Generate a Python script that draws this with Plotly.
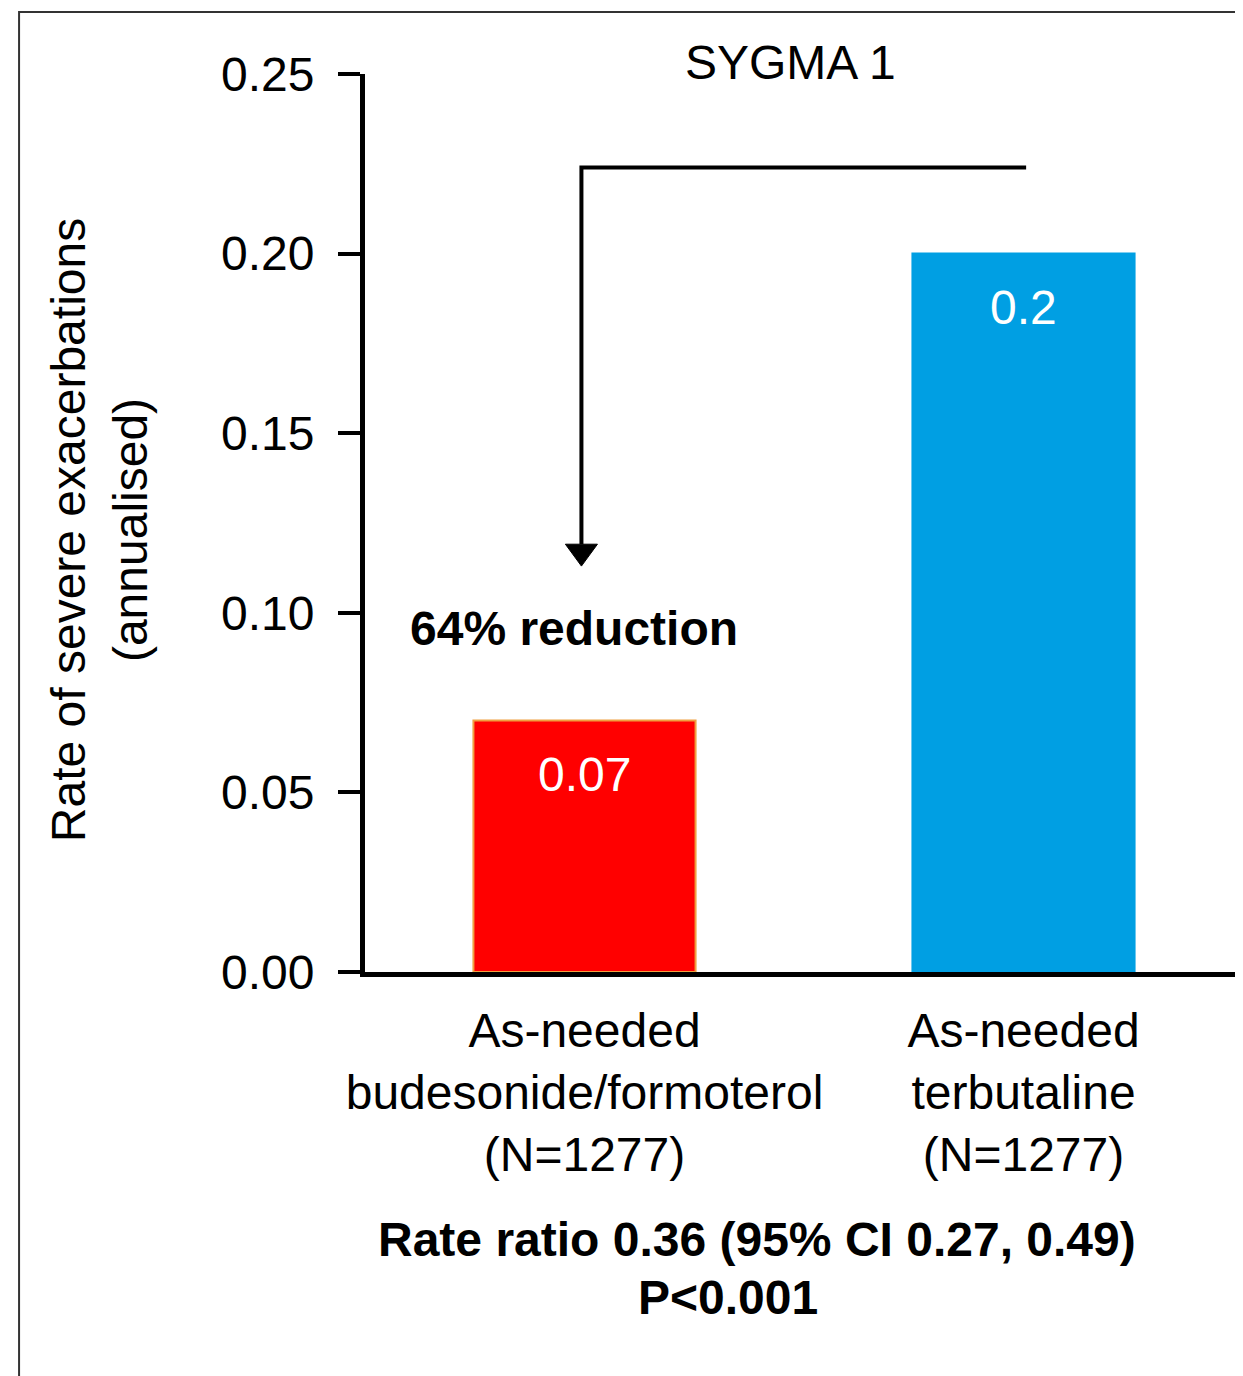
import plotly.graph_objects as go

# ---- data ----
categories = ["As-needed<br>budesonide/formoterol<br>(N=1277)",
              "As-needed<br>terbutaline<br>(N=1277)"]
rates = [0.07, 0.20]
rate_labels = ["0.07", "0.2"]
bar_colors = ["#FF0000", "#009FE3"]
bar_edges = ["#F0A040", "#009FE3"]
y_ticks = [0.00, 0.05, 0.10, 0.15, 0.20, 0.25]
y_tick_labels = ["0.00", "0.05", "0.10", "0.15", "0.20", "0.25"]
title_text = "SYGMA 1"
y_title = "Rate of severe exacerbations<br>(annualised)"
reduction_text = "64% reduction"
stats_line1 = "Rate ratio 0.36 (95% CI 0.27, 0.49)"
stats_line2 = "P<0.001"
bracket_y = 0.224
arrow_tip_y = 0.113

FONT = "Liberation Sans, Arial, sans-serif"
FS = 48
x_pos = list(range(len(categories)))

fig = go.Figure()
fig.add_trace(go.Bar(
    x=x_pos, y=rates, width=0.506,
    marker=dict(color=bar_colors, line=dict(color=bar_edges, width=2)),
    hoverinfo="skip", showlegend=False,
))

# bar value labels
for xi, v, lab in zip(x_pos, rates, rate_labels):
    fig.add_annotation(x=xi, y=v, xref="x", yref="y", text=lab, showarrow=False,
                       yanchor="middle", yshift=-54,
                       font=dict(family=FONT, size=FS, color="white"))

# bracket and arrow
xa, xb = x_pos[0] - 0.007, x_pos[1] + 0.006
hw, hh = 0.0365, 0.0061
fig.add_shape(type="path",
              path=f"M {xa},{arrow_tip_y + hh} L {xa},{bracket_y} L {xb},{bracket_y}",
              xref="x", yref="y", line=dict(color="black", width=4))
fig.add_shape(type="path",
              path=f"M {xa - hw},{arrow_tip_y + hh} L {xa + hw},{arrow_tip_y + hh} L {xa},{arrow_tip_y} Z",
              xref="x", yref="y", fillcolor="black", line=dict(color="black", width=1))

fig.add_annotation(x=-0.023, y=0.0955, xref="x", yref="y", text=f"<b>{reduction_text}</b>",
                   showarrow=False, font=dict(family=FONT, size=FS, color="black"))

# title
fig.add_annotation(x=0.485, y=1.013, xref="paper", yref="paper", text=title_text,
                   showarrow=False, yanchor="middle",
                   font=dict(family=FONT, size=FS, color="black"))

# y-axis title
fig.add_annotation(x=-0.303, y=0.492, xref="paper", yref="paper", text=y_title,
                   showarrow=False, textangle=-90, xanchor="center", yanchor="middle",
                   font=dict(family=FONT, size=FS, color="black"))

# bottom stats
fig.add_annotation(x=0.446, y=-0.298, xref="paper", yref="paper", text=f"<b>{stats_line1}</b>",
                   showarrow=False, yanchor="middle",
                   font=dict(family=FONT, size=FS, color="black"))
fig.add_annotation(x=0.414, y=-0.363, xref="paper", yref="paper", text=f"<b>{stats_line2}</b>",
                   showarrow=False, yanchor="middle",
                   font=dict(family=FONT, size=FS, color="black"))

# outer frame
fig.add_shape(type="rect", xref="paper", yref="paper", x0=-0.394, x1=1.02, y0=-0.6, y1=1.069,
              line=dict(color="#333333", width=2), layer="below")

fig.update_layout(
    width=1235, height=1368,
    margin=dict(l=357, r=0, t=66, b=404),
    paper_bgcolor="white", plot_bgcolor="white",
    font=dict(family=FONT, size=FS, color="black"),
    xaxis=dict(range=[-0.5, 1.5], tickvals=x_pos, ticktext=categories,
               showline=True, linewidth=5, linecolor="black", ticks="",
               showgrid=False, zeroline=False, ticklabelstandoff=12,
               tickfont=dict(family=FONT, size=FS, color="black")),
    yaxis=dict(range=[0, 0.25], tickvals=y_ticks, ticktext=y_tick_labels,
               showline=True, linewidth=5, linecolor="black", ticks="outside",
               ticklen=22, tickwidth=4, tickcolor="black",
               showgrid=False, zeroline=False, ticklabelstandoff=14,
               tickfont=dict(family=FONT, size=FS, color="black")),
)

fig.write_html("out.html")
